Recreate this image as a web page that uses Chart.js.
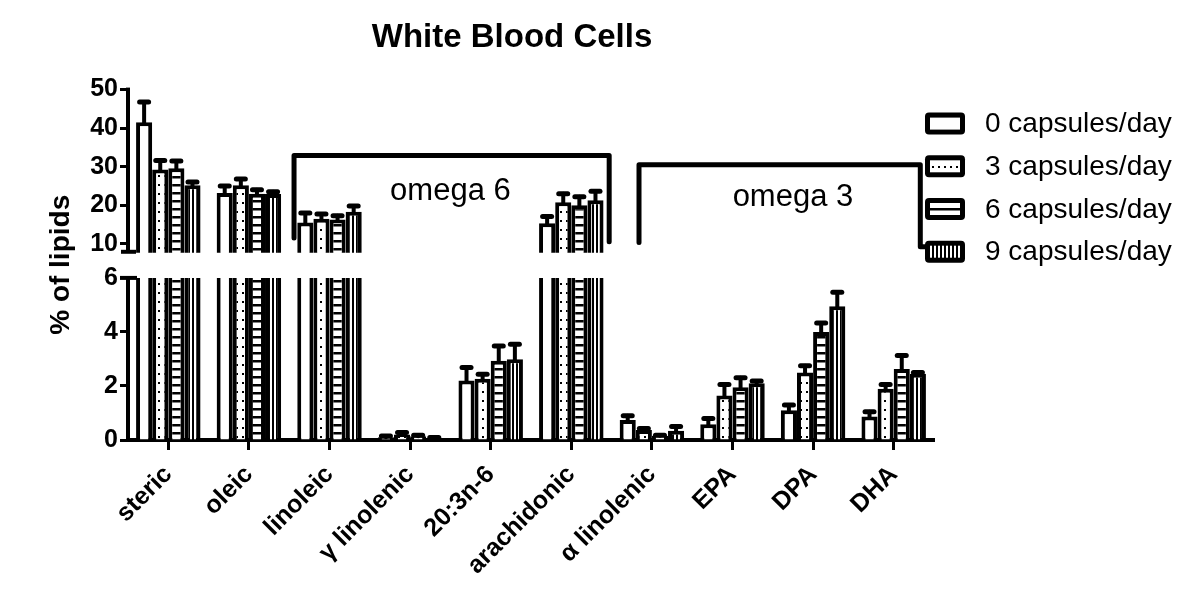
<!DOCTYPE html>
<html><head><meta charset="utf-8">
<script src="https://cdn.jsdelivr.net/npm/chart.js@4.4.1/dist/chart.umd.min.js"></script>
<style>html,body{margin:0;padding:0;background:#fff;}</style>
</head><body>
<canvas id="c" width="1200" height="607"></canvas>
<script>
// ---- data ----
const categories = ['steric','oleic','linoleic','γ linolenic','20:3n-6','arachidonic','α linolenic','EPA','DPA','DHA'];
const seriesLabels = ['0 capsules/day','3 capsules/day','6 capsules/day','9 capsules/day'];
const caps0 = [41.5, 23.2, 15.5, 0.10, 2.20, 15.3, 0.74, 0.58, 1.10, 0.87];
const caps3 = [29.3, 25.2, 16.5, 0.20, 2.27, 20.8, 0.37, 1.65, 2.50, 1.90];
const caps6 = [29.6, 23.0, 16.3, 0.14, 2.93, 20.0, 0.16, 1.95, 4.00, 2.63];
const caps9 = [25.2, 22.9, 18.3, 0.07, 2.99, 21.3, 0.34, 2.10, 4.95, 2.45];
const sd0 = [5.3, 1.8, 2.5, 0.05, 0.48, 1.8, 0.16, 0.22, 0.20, 0.18];
const sd3 = [2.3, 1.6, 1.2, 0.08, 0.16, 2.2, 0.06, 0.40, 0.25, 0.15];
const sd6 = [1.9, 1.0, 1.0, 0.04, 0.55, 2.2, 0.02, 0.35, 0.33, 0.50];
const sd9 = [0.8, 0.6, 1.5, 0.02, 0.55, 2.3, 0.16, 0.08, 0.52, 0.05];
const upperTicks = [10, 20, 30, 40, 50];
const lowerTicks = [0, 2, 4, 6];
const upperRange = [7.66, 50];
const lowerRange = [0, 6.93];
const breakValue = 6;
const groupLabels = ['omega 6', 'omega 3'];
const groupFrom = [2, 6];
const groupTo = [5, 9];
const axisTitle = '% of lipids';
const chartTitle = 'White Blood Cells';

// ---- styling helpers ----
const FONT = '"Liberation Sans", Arial, Helvetica, sans-serif';
Chart.defaults.font.family = FONT;
Chart.defaults.color = '#000';

function makePattern(kind) {
  if (kind === 0) return '#ffffff';
  const c = document.createElement('canvas');
  const g = c.getContext('2d');
  if (kind === 1) { c.width = 6; c.height = 9; g.fillStyle = '#fff'; g.fillRect(0,0,6,9); g.fillStyle = '#000'; g.fillRect(2,4,2,2); }
  if (kind === 2) { c.width = 4; c.height = 8; g.fillStyle = '#fff'; g.fillRect(0,0,4,8); g.fillStyle = '#000'; g.fillRect(0,0,4,2.5); }
  if (kind === 3) { c.width = 4; c.height = 4; g.fillStyle = '#fff'; g.fillRect(0,0,4,4); g.fillStyle = '#000'; g.fillRect(0,0,2,4); }
  return g.createPattern(c, 'repeat');
}
const patterns = [0,1,2,3].map(makePattern);

const seriesValues = [caps0, caps3, caps6, caps9];
const seriesSd = [sd0, sd3, sd6, sd9];
const datasets = [];
['yUpper', 'yLower'].forEach(axis => {
  seriesValues.forEach((vals, i) => {
    datasets.push({
      label: seriesLabels[i], data: vals, sd: seriesSd[i], yAxisID: axis, stack: 's' + i,
      backgroundColor: patterns[i], borderColor: '#000', borderWidth: 4, borderSkipped: 'start',
      categoryPercentage: 0.8, barPercentage: 1.0
    });
  });
});

// bracket geometry (layout, not data)
const bracketGeom = [
  {l: -0.44, r: 0.47, top: 32.9, lb: 11.5, rb: 10.5, tx: 3.5, ty: 21.4, stub: false},
  {l: -0.16, r: 0.33, top: 30.5, lb: 10.3, rb: 9.2, tx: 7.75, ty: 19.9, stub: true}
];

const breakPlugin = {
  id: 'breakAxis',
  beforeDatasetDraw(chart, args) {
    const ds = chart.data.datasets[args.index];
    const sc = chart.scales[ds.yAxisID];
    const ca = chart.chartArea, ctx = chart.ctx;
    let top = sc.top, bottom = sc.bottom;
    if (ds.yAxisID === 'yLower') top = sc.getPixelForValue(breakValue);
    ctx.save();
    ctx.beginPath();
    ctx.rect(ca.left, top, ca.right - ca.left, bottom - top + 4);
    ctx.clip();
  },
  afterDatasetDraw(chart, args) {
    const ds = chart.data.datasets[args.index];
    const sc = chart.scales[ds.yAxisID];
    const ctx = chart.ctx;
    ctx.strokeStyle = '#000';
    ctx.lineCap = 'round';
    args.meta.data.forEach((bar, j) => {
      const v = ds.data[j], e = ds.sd[j];
      const y0 = sc.getPixelForValue(v), y1 = sc.getPixelForValue(v + e);
      ctx.lineWidth = 4;
      ctx.beginPath(); ctx.moveTo(bar.x, y0); ctx.lineTo(bar.x, y1); ctx.stroke();
      ctx.lineWidth = 5;
      ctx.beginPath(); ctx.moveTo(bar.x - 4.5, y1); ctx.lineTo(bar.x + 4.5, y1); ctx.stroke();
    });
    ctx.restore();
  },
  afterDraw(chart) {
    const ctx = chart.ctx, ca = chart.chartArea;
    const yU = chart.scales.yUpper, yL = chart.scales.yLower, xs = chart.scales.x;
    ctx.save();
    ctx.strokeStyle = '#000'; ctx.fillStyle = '#000';
    ctx.lineCap = 'butt';
    // y axis lines with break
    const ax = ca.left;
    ctx.lineWidth = 4;
    ctx.beginPath(); ctx.moveTo(ax, yU.getPixelForValue(upperRange[1]) - 2); ctx.lineTo(ax, yU.bottom); ctx.stroke();
    ctx.beginPath(); ctx.moveTo(ax - 7, yU.bottom - 1); ctx.lineTo(ax + 8, yU.bottom - 1); ctx.stroke();
    ctx.beginPath(); ctx.moveTo(ax, yL.getPixelForValue(breakValue) - 1); ctx.lineTo(ax, yL.bottom + 2); ctx.stroke();
    ctx.beginPath(); ctx.moveTo(ax - 8, yL.getPixelForValue(breakValue)); ctx.lineTo(ax + 9, yL.getPixelForValue(breakValue)); ctx.stroke();
    // brackets
    ctx.lineWidth = 5; ctx.lineJoin = 'round'; ctx.lineCap = 'round';
    groupLabels.forEach((lab, i) => {
      const g = bracketGeom[i];
      const xl = xs.getPixelForValue(groupFrom[i] + g.l), xr = xs.getPixelForValue(groupTo[i] + g.r);
      const yt = yU.getPixelForValue(g.top);
      ctx.beginPath();
      ctx.moveTo(xl, yU.getPixelForValue(g.lb));
      ctx.lineTo(xl, yt); ctx.lineTo(xr, yt);
      ctx.lineTo(xr, yU.getPixelForValue(g.rb));
      if (g.stub) ctx.lineTo(xr + 6, yU.getPixelForValue(g.rb));
      ctx.stroke();
      ctx.font = '31px ' + FONT; ctx.textAlign = 'center'; ctx.textBaseline = 'alphabetic';
      ctx.fillText(lab, xs.getPixelForValue(g.tx), yU.getPixelForValue(g.ty));
    });
    // y axis title
    ctx.save();
    ctx.translate(61, (ca.top + ca.bottom) / 2);
    ctx.rotate(-Math.PI / 2);
    ctx.font = 'bold 28px ' + FONT; ctx.textAlign = 'center'; ctx.textBaseline = 'middle';
    ctx.fillText(axisTitle, 0, 0);
    ctx.restore();
    // legend
    const lx = ca.right - 9;
    seriesLabels.forEach((lab, i) => {
      const y = ca.top + 23 + 42.7 * i, w = 40, h = 22;
      ctx.fillStyle = '#000';
      ctx.beginPath(); ctx.roundRect(lx, y, w, h, 4); ctx.fill();
      ctx.fillStyle = patterns[i];
      ctx.fillRect(lx + 5, y + 5, w - 10, h - 10);
      ctx.fillStyle = '#000';
      ctx.font = '28px ' + FONT; ctx.textAlign = 'left'; ctx.textBaseline = 'middle';
      ctx.fillText(lab, lx + 60, y + h / 2 + 1);
    });
    ctx.restore();
  }
};

const yTickFont = {size: 25, weight: 'bold'};
const xTickFont = {size: 25, weight: 'bold'};
new Chart(document.getElementById('c'), {
  type: 'bar',
  data: {labels: categories, datasets},
  plugins: [breakPlugin],
  options: {
    responsive: false, animation: false, devicePixelRatio: 1,
    layout: {padding: {left: 90, right: 266, top: 0, bottom: 0}},
    plugins: {
      legend: {display: false},
      tooltip: {enabled: false},
      title: {display: true, text: chartTitle, color: '#000', font: {size: 33, weight: 'bold'}, padding: {top: 18, bottom: 32}}
    },
    scales: {
      x: {
        type: 'category', offset: true,
        grid: {display: true, drawOnChartArea: false, drawTicks: true, tickLength: 10, tickWidth: 3, tickColor: '#000', offset: false},
        border: {display: true, color: '#000', width: 4},
        ticks: {color: '#000', font: xTickFont, minRotation: 45, maxRotation: 45, padding: 10, autoSkip: false},
        afterFit: s => { s.height = 167; }
      },
      yLower: {
        type: 'linear', position: 'left', stack: 'y', stackWeight: 187, stacked: false,
        min: lowerRange[0], max: lowerRange[1],
        grid: {display: true, drawOnChartArea: false, drawTicks: true, tickLength: 8, tickWidth: 3, tickColor: '#000'},
        border: {display: false},
        ticks: {color: '#000', font: yTickFont, padding: 2},
        afterBuildTicks: s => { s.ticks = lowerTicks.map(v => ({value: v})); },
        afterFit: s => { s.width = 38; }
      },
      yUpper: {
        type: 'linear', position: 'left', stack: 'y', stackWeight: 163, stacked: false,
        min: upperRange[0], max: upperRange[1],
        grid: {display: true, drawOnChartArea: false, drawTicks: true, tickLength: 8, tickWidth: 3, tickColor: '#000'},
        border: {display: false},
        ticks: {color: '#000', font: yTickFont, padding: 2},
        afterBuildTicks: s => { s.ticks = upperTicks.map(v => ({value: v})); },
        afterFit: s => { s.width = 38; }
      }
    }
  }
});
</script>
</body></html>
